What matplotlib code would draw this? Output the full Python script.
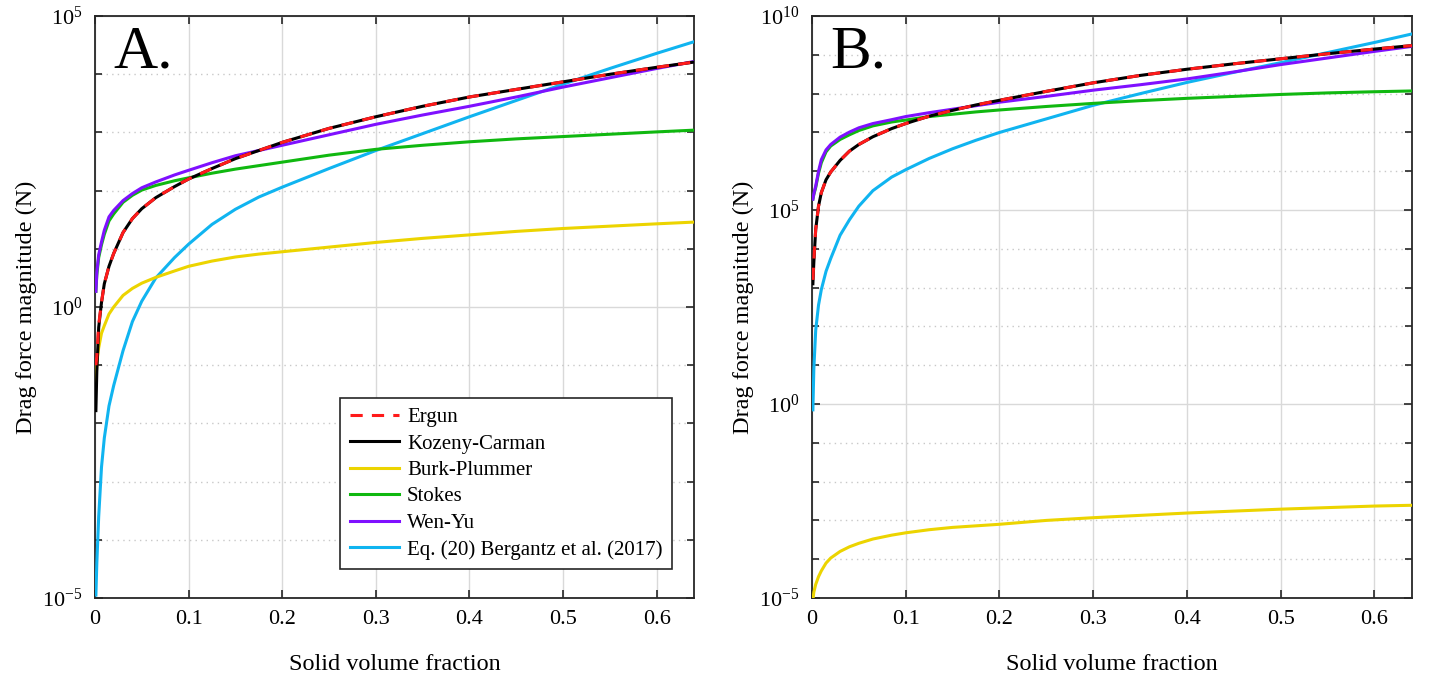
import matplotlib
matplotlib.use("Agg")
import matplotlib.pyplot as plt
from matplotlib.ticker import FixedLocator, LogFormatterMathtext, NullFormatter
import numpy as np

plt.rcParams['font.family'] = ['Liberation Serif', 'DejaVu Serif']
plt.rcParams['mathtext.fontset'] = 'custom'
plt.rcParams['mathtext.rm'] = 'Liberation Serif'

# solid volume fraction sample points (shared by all curves)
phi = [0.001, 0.002, 0.004, 0.007, 0.01, 0.015, 0.02, 0.03, 0.04, 0.05, 0.065, 0.085, 0.1,
       0.125, 0.15, 0.175, 0.2, 0.25, 0.3, 0.35, 0.4, 0.45, 0.5, 0.55, 0.6, 0.64]

# panel A, log10 of drag force (N)
a_ergun = [-1.0, -0.85, -0.3, 0.08, 0.4, 0.7, 0.92, 1.28, 1.52, 1.69, 1.88, 2.07, 2.2,
           2.38, 2.55, 2.69, 2.83, 3.07, 3.27, 3.45, 3.61, 3.74, 3.87, 4.0, 4.12, 4.21]
a_kozeny = [-1.78, -1.1, -0.35, 0.08, 0.4, 0.7, 0.92, 1.28, 1.52, 1.69, 1.88, 2.07, 2.2,
            2.38, 2.55, 2.69, 2.83, 3.07, 3.27, 3.45, 3.61, 3.74, 3.87, 4.0, 4.12, 4.21]
a_burk = [-1.33, -0.95, -0.7, -0.45, -0.32, -0.12, 0.0, 0.2, 0.32, 0.41, 0.51, 0.62, 0.7,
          0.79, 0.86, 0.91, 0.95, 1.03, 1.11, 1.18, 1.24, 1.3, 1.35, 1.39, 1.43, 1.46]
a_stokes = [0.27, 0.55, 0.85, 1.07, 1.25, 1.48, 1.6, 1.8, 1.92, 2.01, 2.09, 2.17, 2.22,
            2.3, 2.37, 2.43, 2.49, 2.61, 2.71, 2.78, 2.84, 2.89, 2.93, 2.97, 3.01, 3.04]
a_wenyu = [0.27, 0.6, 0.9, 1.12, 1.32, 1.55, 1.66, 1.83, 1.95, 2.05, 2.15, 2.27, 2.35,
           2.48, 2.6, 2.69, 2.78, 2.96, 3.14, 3.3, 3.45, 3.61, 3.78, 3.94, 4.1, 4.22]
a_bergantz = [-4.95, -4.4, -3.6, -2.75, -2.25, -1.7, -1.35, -0.75, -0.25, 0.1, 0.5, 0.85, 1.08,
              1.42, 1.68, 1.89, 2.06, 2.38, 2.69, 2.98, 3.27, 3.55, 3.83, 4.1, 4.36, 4.56]

# panel B
b_ergun = [3.2, 3.7, 4.5, 5.1, 5.45, 5.78, 5.98, 6.28, 6.52, 6.69, 6.89, 7.1, 7.23,
           7.42, 7.57, 7.71, 7.83, 8.06, 8.28, 8.47, 8.63, 8.77, 8.9, 9.03, 9.15, 9.24]
b_kozeny = [3.1, 3.65, 4.5, 5.1, 5.45, 5.78, 5.98, 6.28, 6.52, 6.69, 6.89, 7.1, 7.23,
            7.42, 7.57, 7.71, 7.83, 8.06, 8.28, 8.47, 8.63, 8.77, 8.9, 9.03, 9.15, 9.24]
b_burk = [-5.05, -4.85, -4.65, -4.45, -4.3, -4.1, -3.97, -3.8, -3.68, -3.59, -3.48, -3.38, -3.32,
          -3.24, -3.18, -3.14, -3.1, -3.0, -2.93, -2.87, -2.81, -2.76, -2.71, -2.67, -2.63, -2.61]
b_stokes = [5.28, 5.4, 5.58, 5.95, 6.22, 6.5, 6.65, 6.82, 6.94, 7.05, 7.17, 7.27, 7.32,
            7.41, 7.47, 7.53, 7.58, 7.67, 7.75, 7.82, 7.88, 7.93, 7.98, 8.02, 8.05, 8.07]
b_wenyu = [5.28, 5.42, 5.62, 6.0, 6.3, 6.55, 6.69, 6.88, 7.01, 7.12, 7.23, 7.33, 7.41,
           7.51, 7.6, 7.69, 7.78, 7.93, 8.09, 8.23, 8.38, 8.56, 8.75, 8.92, 9.09, 9.22]
b_bergantz = [-0.15, 0.9, 1.9, 2.55, 2.95, 3.42, 3.75, 4.35, 4.75, 5.1, 5.5, 5.85, 6.04,
              6.33, 6.58, 6.8, 7.0, 7.35, 7.7, 8.0, 8.29, 8.55, 8.8, 9.06, 9.32, 9.54]

labels = ['Ergun', 'Kozeny-Carman', 'Burk-Plummer', 'Stokes', 'Wen-Yu',
          'Eq. (20) Bergantz et al. (2017)']
colors = ['#ff1a1a', 'black', '#ecd400', '#10b810', '#7f10ff', '#10b4f0']

fig = plt.figure(figsize=(14.3, 6.79), dpi=100)
axA = fig.add_axes([0.0664, 0.1193, 0.419, 0.857])
axB = fig.add_axes([0.5678, 0.1193, 0.4196, 0.857])

panels = [
    (axA, [a_ergun, a_kozeny, a_burk, a_stokes, a_wenyu, a_bergantz], (-5, 5), 'A.'),
    (axB, [b_ergun, b_kozeny, b_burk, b_stokes, b_wenyu, b_bergantz], (-5, 10), 'B.'),
]

lines_a = {}
for ax, series, (lo, hi), tag in panels:
    # draw Ergun (dashed) last so it sits on top of Kozeny-Carman
    for i in [5, 2, 3, 4, 1, 0]:
        y = 10.0 ** np.array(series[i])
        if i == 0:
            h, = ax.plot(phi, y, color=colors[i], lw=2.2, ls='--', dashes=(4, 3), zorder=4)
        else:
            h, = ax.plot(phi, y, color=colors[i], lw=2.2, zorder=3)
        if ax is axA:
            lines_a[i] = h
    ax.set_yscale('log')
    ax.set_xlim(0, 0.64)
    ax.set_ylim(10.0 ** lo, 10.0 ** hi)
    ax.xaxis.set_major_locator(FixedLocator(np.arange(0, 0.61, 0.1)))
    ax.set_xticklabels(['0', '0.1', '0.2', '0.3', '0.4', '0.5', '0.6'])
    ax.yaxis.set_major_locator(FixedLocator([10.0 ** k for k in range(lo, hi + 1, 5)]))
    ax.yaxis.set_major_formatter(LogFormatterMathtext())
    ax.yaxis.set_minor_locator(FixedLocator([10.0 ** k for k in range(lo, hi + 1) if k % 5 != 0]))
    ax.yaxis.set_minor_formatter(NullFormatter())
    ax.grid(True, which='major', color='#d9d9d9', lw=1, ls='-')
    ax.grid(True, which='minor', axis='y', color='#c8c8c8', lw=1, ls=(0, (1, 3)))
    ax.set_axisbelow(True)
    ax.tick_params(which='both', direction='in', top=True, right=True,
                   labelsize=16, width=1.2, color='#262626', pad=9)
    ax.tick_params(which='major', length=6)
    ax.tick_params(which='minor', length=5)
    for s in ax.spines.values():
        s.set_linewidth(1.3)
        s.set_color('#262626')
    ax.set_xlabel('Solid volume fraction', fontsize=17.5, labelpad=18)
    ax.set_ylabel('Drag force magnitude (N)', fontsize=17.5, labelpad=4)
    ax.text(0.03, 0.985, tag, transform=ax.transAxes, fontsize=44,
            va='top', ha='left')

leg = axA.legend([lines_a[i] for i in range(6)], labels,
                 loc='lower right', bbox_to_anchor=(0.963, 0.05), borderaxespad=0,
                 fontsize=15, handlelength=2.35, labelspacing=0.33, handletextpad=0.4,
                 fancybox=False, framealpha=1, edgecolor='#262626', borderpad=0.45)
leg.get_frame().set_linewidth(1.2)

fig.savefig('out.png', dpi=100)
